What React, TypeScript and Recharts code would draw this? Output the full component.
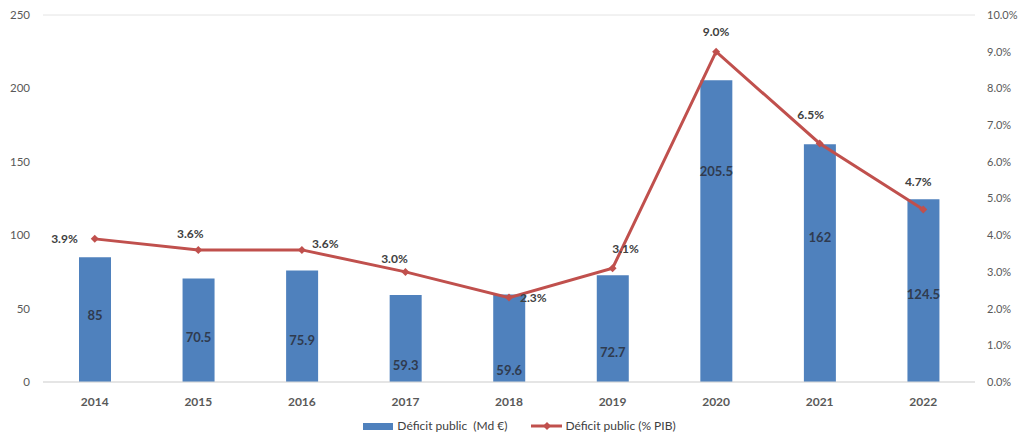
import {
  ComposedChart,
  Bar,
  Line,
  XAxis,
  YAxis,
  CartesianGrid,
  Legend,
  LabelList,
} from 'recharts'

const years = ['2014', '2015', '2016', '2017', '2018', '2019', '2020', '2021', '2022']
const deficitMd = [85, 70.5, 75.9, 59.3, 59.6, 72.7, 205.5, 162, 124.5]
const deficitPib = [3.9, 3.6, 3.6, 3.0, 2.3, 3.1, 9.0, 6.5, 4.7]
const leftTicks = [0, 50, 100, 150, 200, 250]
const rightTicks = [0, 1, 2, 3, 4, 5, 6, 7, 8, 9, 10]

const BLUE = '#4f81bd'
const RED = '#c0504d'
const FONT = 'Lato, "Open Sans", sans-serif'

const data = years.map((y, i) => ({
  year: y,
  md: deficitMd[i],
  pib: deficitPib[i],
}))

// label placement, as in the original (hand-moved labels)
const pibLabelPos: [number, number, 'start' | 'middle' | 'end'][] = [
  [-17, 0, 'end'],
  [-8, -16, 'middle'],
  [10, -6, 'start'],
  [-11, -13, 'middle'],
  [11, 0, 'start'],
  [13, -19, 'middle'],
  [0, -20, 'middle'],
  [-9, -28, 'middle'],
  [-5, -28, 'middle'],
]
// how far down the bar its value sits (0 = top, 1 = base)
const mdLabelDepth = [0.46, 0.57, 0.62, 0.8, 0.86, 0.72, 0.3, 0.39, 0.52]

const Diamond = (props: any) => {
  const { cx, cy } = props
  if (cx == null || cy == null) return null
  const r = 4
  return (
    <polygon
      points={`${cx},${cy - r} ${cx + r},${cy} ${cx},${cy + r} ${cx - r},${cy}`}
      fill={RED}
    />
  )
}

const PibLabel = (props: any) => {
  const { x, y, value, index } = props
  const [dx, dy, anchor] = pibLabelPos[index] || [0, -16, 'middle']
  return (
    <text
      x={x + dx}
      y={y + dy}
      dy={4}
      textAnchor={anchor}
      fontFamily={FONT}
      fontSize={12}
      fontWeight={700}
      fill="#404040"
    >
      {`${Number(value).toFixed(1)}%`}
    </text>
  )
}

const MdLabel = (props: any) => {
  const { x, y, width, height, value, index } = props
  const f = mdLabelDepth[index] ?? 0.5
  return (
    <text
      x={x + width / 2}
      y={y + height * f}
      dy={5}
      textAnchor="middle"
      fontFamily={FONT}
      fontSize={13}
      fontWeight={700}
      fill="#2f3b4f"
    >
      {value}
    </text>
  )
}

const LegendContent = () => (
  <div
    style={{
      display: 'flex',
      justifyContent: 'center',
      alignItems: 'center',
      fontFamily: FONT,
      fontSize: 12,
      lineHeight: '14px',
      color: '#404040',
      paddingLeft: 16,
      paddingTop: 11,
    }}
  >
    <svg width={32} height={10}>
      <rect x={0} y={2} width={30} height={7} fill={BLUE} />
    </svg>
    <span style={{ marginLeft: 2, marginRight: 24 }}>Déficit public&nbsp; (Md €)</span>
    <svg width={32} height={10}>
      <line x1={0} y1={5} x2={31} y2={5} stroke={RED} strokeWidth={3} />
      <polygon points="16,1 20,5 16,9 12,5" fill={RED} />
    </svg>
    <span style={{ marginLeft: 2 }}>Déficit public (% PIB)</span>
  </div>
)

export default function App() {
  return (
    <div style={{ position: 'absolute', top: 0, left: 0, width: 1023, height: 440, background: '#fff' }}>
      <style>{'body{margin:0;overflow:hidden}'}</style>
      <ComposedChart
        width={1023}
        height={440}
        data={data}
        margin={{ top: 15, right: 0, left: 0, bottom: 0 }}
      >
        <CartesianGrid vertical={false} stroke="#e4e4e4" />
        <XAxis
          dataKey="year"
          height={26}
          tickLine={false}
          axisLine={{ stroke: '#d9d9d9' }}
          tick={{ fontFamily: FONT, fontSize: 12, fontWeight: 700, fill: '#595959' }}
          tickMargin={9}
        />
        <YAxis
          yAxisId="left"
          domain={[0, 250]}
          ticks={leftTicks}
          width={43}
          axisLine={false}
          tickLine={false}
          tickSize={0}
          tickMargin={13}
          tick={{ fontFamily: FONT, fontSize: 11.5, fill: '#595959' }}
        />
        <YAxis
          yAxisId="right"
          orientation="right"
          domain={[0, 10]}
          ticks={rightTicks}
          width={48}
          axisLine={false}
          tickLine={false}
          tickSize={0}
          tickMargin={12}
          tickFormatter={(v: number) => `${v.toFixed(1)}%`}
          tick={{ fontFamily: FONT, fontSize: 11, fill: '#595959' }}
        />
        <Legend verticalAlign="bottom" height={32} content={<LegendContent />} />
        <Bar
          yAxisId="left"
          dataKey="md"
          fill={BLUE}
          barSize={32}
          isAnimationActive={false}
        >
          <LabelList dataKey="md" content={<MdLabel />} />
        </Bar>
        <Line
          yAxisId="right"
          dataKey="pib"
          type="linear"
          stroke={RED}
          strokeWidth={3}
          dot={<Diamond />}
          activeDot={false}
          isAnimationActive={false}
        >
          <LabelList dataKey="pib" content={<PibLabel />} />
        </Line>
      </ComposedChart>
    </div>
  )
}
